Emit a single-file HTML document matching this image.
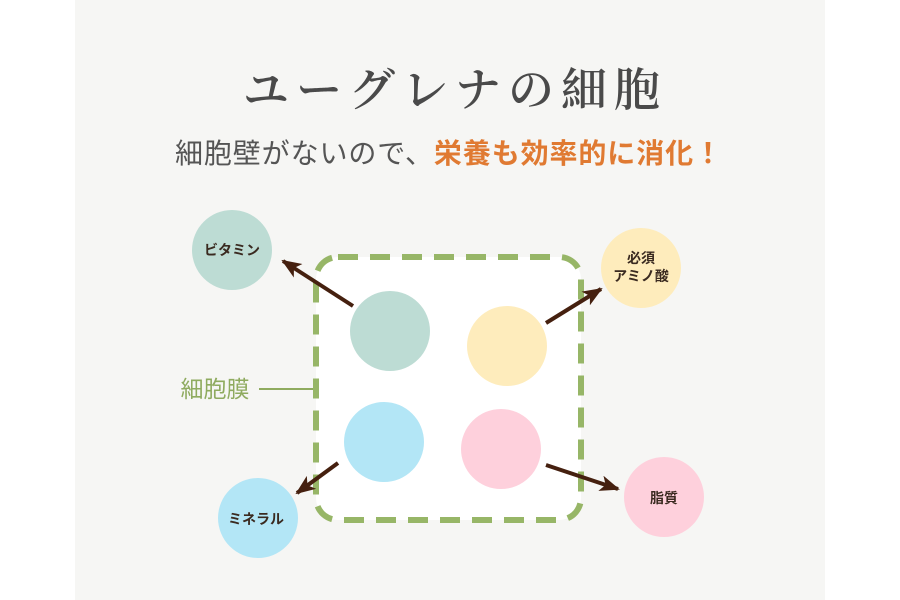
<!DOCTYPE html>
<html><head><meta charset="utf-8"><style>
html,body{margin:0;padding:0;width:900px;height:600px;overflow:hidden;background:#fff}
</style></head><body>
<svg width="900" height="600" xmlns="http://www.w3.org/2000/svg">
<defs>
<marker id="b" viewBox="0 0 20 16" refX="18" refY="8" markerWidth="20" markerHeight="16" orient="auto" markerUnits="userSpaceOnUse"><path d="M0,0 L20,8 L0,16 L5,8 Z" fill="#45200f"/></marker></defs>
<rect x="75" y="0" width="750" height="600" fill="#f6f6f4"/>
<text x="243" y="106" textLength="417" lengthAdjust="spacing" font-family="'Noto Serif CJK SC','Liberation Serif',serif" font-weight="600" font-size="46" fill="#4a4a4a">ユーグレナの細胞</text>
<text x="175" y="163" textLength="547" lengthAdjust="spacing" font-family="'Liberation Sans','Noto Sans CJK JP',sans-serif" font-size="28" fill="#555"><tspan>細胞壁がないので、</tspan><tspan fill="#e07a32" font-weight="bold">栄養も効率的に消化！</tspan></text>
<rect x="316" y="257" width="265" height="263" rx="22" fill="#fff" stroke="#97b667" stroke-width="6" stroke-dasharray="20 12"/>
<circle cx="390" cy="331" r="40" fill="#bddcd4"/>
<circle cx="507" cy="346" r="40" fill="#feecbc"/>
<circle cx="384" cy="442" r="40" fill="#b3e6f6"/>
<circle cx="501" cy="449" r="40" fill="#fed0dc"/>
<circle cx="232" cy="250" r="40" fill="#bddcd4"/>
<circle cx="641" cy="268" r="40" fill="#feecbc"/>
<circle cx="258" cy="518" r="40" fill="#b3e6f6"/>
<circle cx="664" cy="497" r="40" fill="#fed0dc"/>
<g stroke="#45200f" stroke-width="4" marker-end="url(#b)">
<line x1="353" y1="306" x2="283" y2="261"/>
<line x1="546" y1="323" x2="601" y2="289"/>
<line x1="338" y1="463" x2="297" y2="493"/>
<line x1="546" y1="465" x2="618" y2="489"/>
</g>
<g font-family="'Liberation Sans','Noto Sans CJK JP',sans-serif" font-weight="bold" font-size="14" fill="#3a2a20" text-anchor="middle">
<text x="232" y="255">ビタミン</text>
<text x="641" y="263">必須</text>
<text x="641" y="281">アミノ酸</text>
<text x="256" y="524">ミネラル</text>
<text x="664" y="503">脂質</text>
</g>
<text x="215" y="397" text-anchor="middle" font-family="'Liberation Sans','Noto Sans CJK JP',sans-serif" font-size="23" fill="#8fab5f">細胞膜</text>
<line x1="259" y1="389" x2="313" y2="389" stroke="#8fab5f" stroke-width="2"/>
</svg>
</body></html>
